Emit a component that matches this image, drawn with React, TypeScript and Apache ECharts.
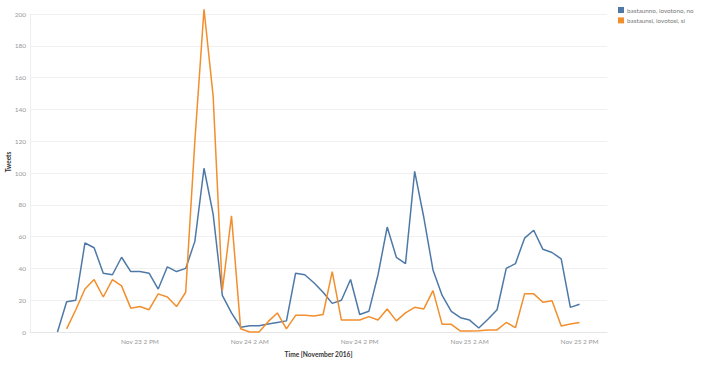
import React, { useEffect, useRef } from "react";
import * as echarts from "echarts";

// hourly axis from Nov 23 2 AM to Nov 25 5 PM
const START_DAY = 23;
const START_HOUR = 2;
const HOURS = 64;
const categories: string[] = [];
for (let i = 0; i < HOURS; i++) {
  const h = START_HOUR + i;
  const day = START_DAY + Math.floor(h / 24);
  const hh = h % 24;
  const ampm = hh < 12 ? "AM" : "PM";
  const h12 = hh % 12 === 0 ? 12 : hh % 12;
  categories.push(`Nov ${day} ${h12} ${ampm}`);
}

const seriesNames = ["bastaunno, iovotono, no", "bastaunsi, iovotosi, si"];

// starts Nov 23 5 AM
const noValues = [
  0, 19, 20, 56, 53, 37, 36, 47, 38, 38, 37, 27, 41, 38, 40, 57, 103, 74, 23, 12,
  3, 4, 4, 5, 6, 7, 37, 36, 31, 25, 18, 20, 33, 11, 13, 36, 66, 47, 43, 101,
  72, 39, 23, 13, 9, 7.5, 2.5, 8, 14, 40, 43, 59, 64, 52, 50, 46, 15.5, 17.5,
];
// starts Nov 23 6 AM
const siValues = [
  2, 14, 27, 33, 22, 33, 29, 15, 16, 14, 24, 22, 16, 25, 120, 203, 148, 26, 73,
  2, 0, 0, 6.5, 12, 2, 10.5, 10.5, 10, 11, 38, 7.5, 7.5, 7.5, 9.7, 7.5, 14.5, 7,
  12, 15.5, 14.5, 26, 4.8, 4.8, 0.6, 0.6, 0.8, 1.3, 1.3, 6, 2.7, 24, 24, 18.7,
  19.7, 3.8, 5, 6,
];
const noOffset = 3;
const siOffset = 4;

const yTicks = { min: 0, max: 200, interval: 20 };

function pad(values: number[], offset: number): (number | null)[] {
  const out: (number | null)[] = new Array(HOURS).fill(null);
  values.forEach((v, i) => {
    out[offset + i] = v;
  });
  return out;
}

const FONT = "Lato, 'Open Sans', sans-serif";

export default function App() {
  const ref = useRef<HTMLDivElement>(null);
  useEffect(() => {
    if (!ref.current) return;
    const chart = echarts.init(ref.current, null, { renderer: "svg" });
    chart.setOption({
      animation: false,
      textStyle: { fontFamily: FONT },
      color: ["#4e79a7", "#f28e2b"],
      grid: { left: 30, right: 94, top: 14, bottom: 36 },
      legend: {
        orient: "vertical",
        left: 613,
        top: 2,
        icon: "rect",
        itemWidth: 6,
        itemHeight: 6,
        itemGap: 4.4,
        textStyle: { fontSize: 6.3, color: "#777", fontFamily: FONT, padding: [0, 0, 0, -2] },
        data: seriesNames,
      },
      graphic: [
        {
          type: "text",
          x: 8,
          y: 162,
          rotation: Math.PI / 2,
          style: {
            text: "Tweets",
            fontSize: 6.5,
            fontWeight: "bold",
            fill: "#333",
            fontFamily: FONT,
            align: "center",
            verticalAlign: "middle",
          },
        },
      ],
      xAxis: {
        type: "category",
        data: categories,
        boundaryGap: false,
        name: "Time [November 2016]",
        nameLocation: "middle",
        nameGap: 18,
        nameTextStyle: { fontSize: 6.6, fontWeight: "bold", color: "#333", fontFamily: FONT },
        axisLine: { show: true, lineStyle: { color: "#e6e6e6", width: 1 } },
        axisTick: { show: false },
        axisLabel: {
          fontSize: 6.5,
          color: "#999",
          margin: 6,
          interval: (idx: number) => idx > 0 && idx % 12 === 0,
        },
        splitLine: { show: false },
      },
      yAxis: {
        type: "value",
        min: yTicks.min,
        max: yTicks.max,
        interval: yTicks.interval,
        axisLine: { show: true, lineStyle: { color: "#eeeeee", width: 1 } },
        axisTick: { show: false },
        axisLabel: { fontSize: 6.5, color: "#999", margin: 4 },
        splitLine: { show: true, lineStyle: { color: "#f0f0f0", width: 1 } },
      },
      series: [
        {
          name: seriesNames[0],
          type: "line",
          data: pad(noValues, noOffset),
          showSymbol: false,
          clip: false,
          lineStyle: { width: 1.5 },
        },
        {
          name: seriesNames[1],
          type: "line",
          data: pad(siValues, siOffset),
          showSymbol: false,
          clip: false,
          lineStyle: { width: 1.5 },
        },
      ],
    });
    return () => chart.dispose();
  }, []);
  return <div ref={ref} style={{ width: 701, height: 368, position: "absolute", left: 0, top: 0 }} />;
}
